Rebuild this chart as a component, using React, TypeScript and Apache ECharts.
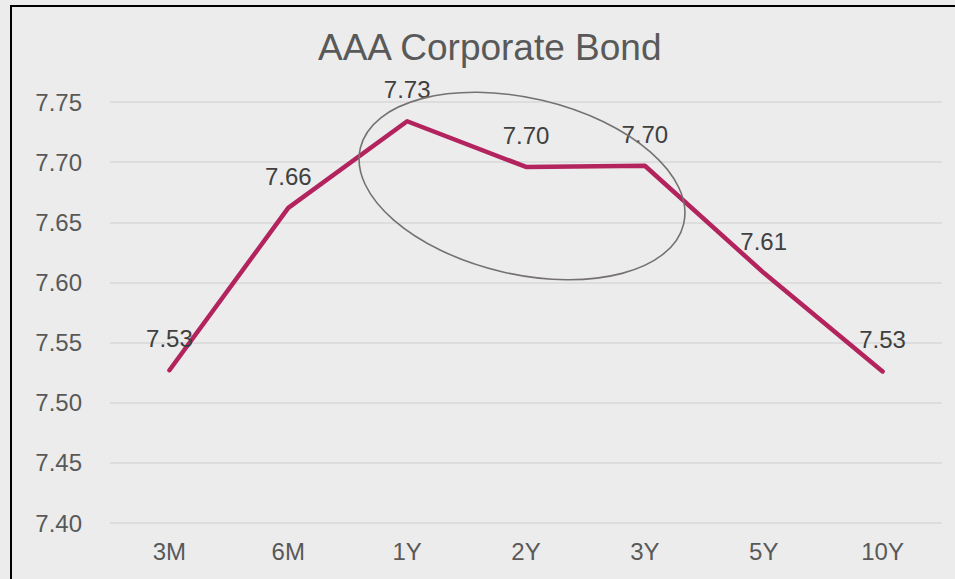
import React, { useEffect, useRef } from "react";
import * as echarts from "echarts";

const categories = ["3M", "6M", "1Y", "2Y", "3Y", "5Y", "10Y"];
const yields = [7.527, 7.662, 7.734, 7.696, 7.697, 7.608, 7.526];
const chartTitle = "AAA Corporate Bond";

const FONT = "'Liberation Sans', Arial, sans-serif";

export default function App() {
  const ref = useRef<HTMLDivElement>(null);

  useEffect(() => {
    if (!ref.current) return;
    const chart = echarts.init(ref.current, null, { renderer: "svg" });
    chart.setOption({
      animation: false,
      backgroundColor: "#ebeceb",
      title: {
        text: chartTitle,
        left: 318,
        top: 29,
        padding: 0,
        textStyle: {
          fontFamily: FONT,
          fontSize: 37,
          fontWeight: "normal",
          color: "#595959",
        },
      },
      grid: { left: 110, right: 13, top: 102, bottom: 56 },
      xAxis: {
        type: "category",
        data: categories,
        boundaryGap: true,
        axisLine: { show: false },
        axisTick: { show: false },
        axisLabel: {
          margin: 16,
          fontFamily: FONT,
          fontSize: 24,
          color: "#595959",
        },
      },
      yAxis: {
        type: "value",
        min: 7.4,
        max: 7.75,
        interval: 0.05,
        axisLine: { show: false },
        axisTick: { show: false },
        splitLine: { lineStyle: { color: "#d9d9d9", width: 1.5 } },
        axisLabel: {
          margin: 28,
          fontFamily: FONT,
          fontSize: 24,
          color: "#595959",
          formatter: (v: number) => v.toFixed(2),
        },
      },
      series: [
        {
          type: "line",
          data: yields,
          symbol: "circle",
          symbolSize: 1,
          showSymbol: true,
          itemStyle: { color: "#b3235d" },
          lineStyle: { color: "#b3235d", width: 4.5, cap: "round", join: "round" },
          label: {
            show: true,
            position: "top",
            distance: 19,
            offset: [3, 0],
            fontFamily: FONT,
            fontSize: 24,
            color: "#404040",
            formatter: (p: any) => Number(p.value).toFixed(2),
          },
          labelLayout: { hideOverlap: false },
        },
      ],
      graphic: [
        {
          type: "ellipse",
          x: 522,
          y: 186,
          rotation: -0.23,
          z: 100,
          shape: { cx: 0, cy: 0, rx: 166, ry: 88 },
          style: { fill: "none", stroke: "#767171", lineWidth: 1.6 },
        },
        {
          type: "rect",
          z: 100,
          shape: { x: 11, y: 6, width: 1200, height: 1200 },
          style: { fill: "none", stroke: "#000000", lineWidth: 2 },
        },
      ],
    });
    return () => chart.dispose();
  }, []);

  return (
    <div
      ref={ref}
      style={{ position: "absolute", left: 0, top: 0, width: 955, height: 579 }}
    />
  );
}
